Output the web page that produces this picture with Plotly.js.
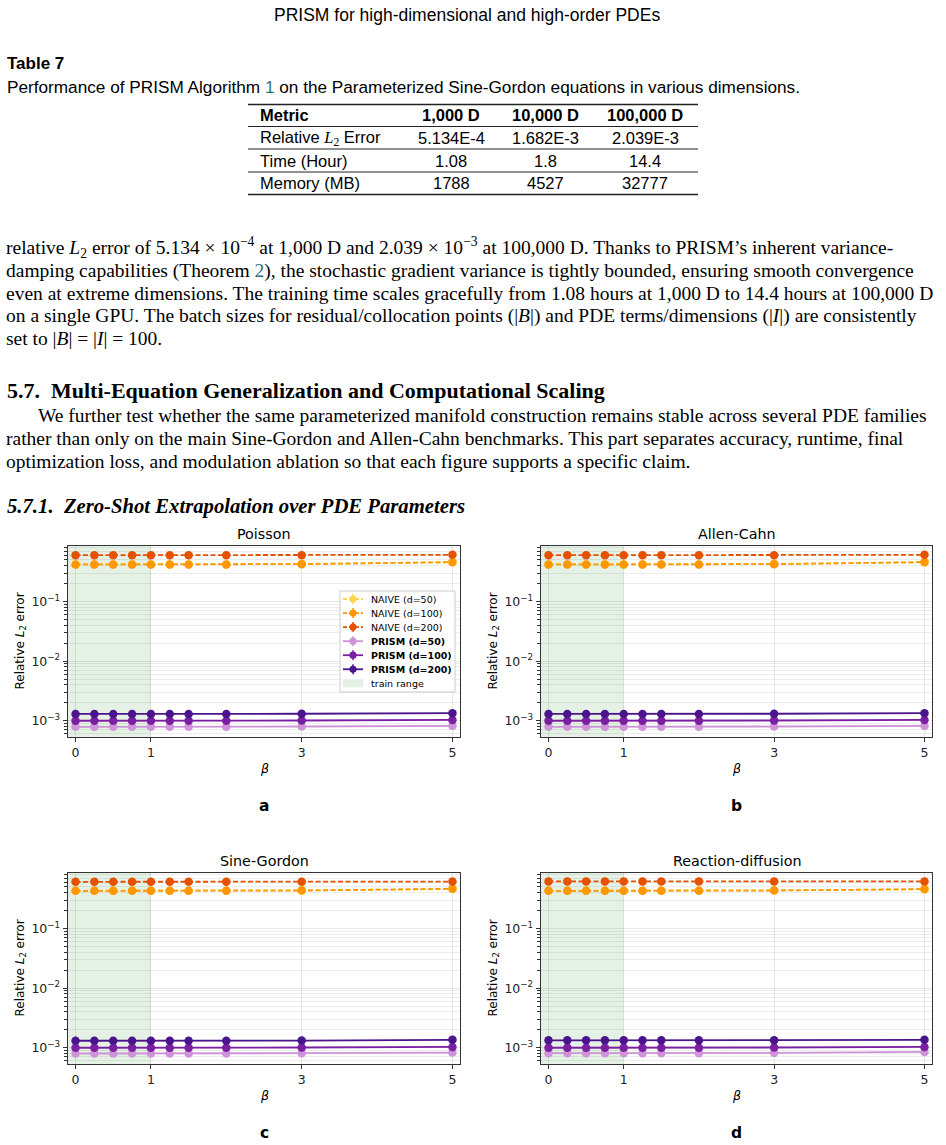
<!DOCTYPE html>
<html><head><meta charset="utf-8">
<script src="https://cdn.plot.ly/plotly-3.0.1.min.js"></script>
<style>html,body{margin:0;padding:0;background:#fff;}#chart{width:946px;height:1145px;}</style>
</head><body><div id="chart"></div>
<script>
// ---------------- DATA ----------------
const betas = [0, 0.25, 0.5, 0.75, 1, 1.25, 1.5, 2, 3, 5];
const trainRange = [0, 1];

const poissonNaive50  = [0.42, 0.42, 0.42, 0.42, 0.42, 0.42, 0.42, 0.42, 0.43, 0.455];
const poissonNaive100 = [0.42, 0.42, 0.42, 0.42, 0.42, 0.42, 0.42, 0.42, 0.425, 0.46];
const poissonNaive200 = [0.60, 0.60, 0.60, 0.60, 0.60, 0.60, 0.60, 0.60, 0.60, 0.61];
const poissonPrism50  = [0.79e-3, 0.79e-3, 0.79e-3, 0.79e-3, 0.79e-3, 0.79e-3, 0.79e-3, 0.79e-3, 0.80e-3, 0.82e-3];
const poissonPrism100 = [1.00e-3, 1.00e-3, 1.00e-3, 1.00e-3, 1.00e-3, 1.00e-3, 1.00e-3, 1.00e-3, 1.01e-3, 1.03e-3];
const poissonPrism200 = [1.30e-3, 1.30e-3, 1.30e-3, 1.30e-3, 1.30e-3, 1.30e-3, 1.30e-3, 1.30e-3, 1.31e-3, 1.34e-3];

const allenNaive50  = [0.42, 0.42, 0.42, 0.42, 0.42, 0.42, 0.42, 0.42, 0.43, 0.455];
const allenNaive100 = [0.42, 0.42, 0.42, 0.42, 0.42, 0.42, 0.42, 0.42, 0.425, 0.46];
const allenNaive200 = [0.60, 0.60, 0.60, 0.60, 0.60, 0.60, 0.60, 0.60, 0.60, 0.61];
const allenPrism50  = [0.79e-3, 0.79e-3, 0.79e-3, 0.79e-3, 0.79e-3, 0.79e-3, 0.79e-3, 0.79e-3, 0.80e-3, 0.82e-3];
const allenPrism100 = [1.00e-3, 1.00e-3, 1.00e-3, 1.00e-3, 1.00e-3, 1.00e-3, 1.00e-3, 1.00e-3, 1.01e-3, 1.03e-3];
const allenPrism200 = [1.30e-3, 1.30e-3, 1.30e-3, 1.30e-3, 1.30e-3, 1.30e-3, 1.30e-3, 1.30e-3, 1.31e-3, 1.34e-3];

const sineNaive50  = [0.43, 0.43, 0.43, 0.43, 0.43, 0.43, 0.43, 0.43, 0.44, 0.46];
const sineNaive100 = [0.43, 0.43, 0.43, 0.43, 0.43, 0.43, 0.43, 0.43, 0.435, 0.465];
const sineNaive200 = [0.61, 0.61, 0.61, 0.61, 0.61, 0.61, 0.61, 0.61, 0.61, 0.615];
const sinePrism50  = [0.80e-3, 0.80e-3, 0.80e-3, 0.80e-3, 0.80e-3, 0.80e-3, 0.80e-3, 0.80e-3, 0.81e-3, 0.83e-3];
const sinePrism100 = [1.00e-3, 1.00e-3, 1.00e-3, 1.00e-3, 1.00e-3, 1.00e-3, 1.00e-3, 1.00e-3, 1.01e-3, 1.03e-3];
const sinePrism200 = [1.31e-3, 1.31e-3, 1.31e-3, 1.31e-3, 1.31e-3, 1.31e-3, 1.31e-3, 1.31e-3, 1.32e-3, 1.36e-3];

const reactNaive50  = [0.43, 0.43, 0.43, 0.43, 0.43, 0.43, 0.43, 0.43, 0.44, 0.455];
const reactNaive100 = [0.43, 0.43, 0.43, 0.43, 0.43, 0.43, 0.43, 0.43, 0.435, 0.46];
const reactNaive200 = [0.62, 0.62, 0.62, 0.62, 0.62, 0.62, 0.62, 0.62, 0.62, 0.62];
const reactPrism50  = [0.81e-3, 0.81e-3, 0.81e-3, 0.81e-3, 0.81e-3, 0.81e-3, 0.81e-3, 0.81e-3, 0.82e-3, 0.85e-3];
const reactPrism100 = [1.00e-3, 1.00e-3, 1.00e-3, 1.00e-3, 1.00e-3, 1.00e-3, 1.00e-3, 1.00e-3, 1.01e-3, 1.03e-3];
const reactPrism200 = [1.33e-3, 1.33e-3, 1.33e-3, 1.33e-3, 1.33e-3, 1.33e-3, 1.33e-3, 1.33e-3, 1.34e-3, 1.36e-3];

const panelTitles = ['Poisson', 'Allen-Cahn', 'Sine-Gordon', 'Reaction-diffusion'];
const panelLabels = ['a', 'b', 'c', 'd'];
const seriesNames = ['NAIVE (d=50)', 'NAIVE (d=100)', 'NAIVE (d=200)', 'PRISM (d=50)', 'PRISM (d=100)', 'PRISM (d=200)'];
const panelData = [
  [poissonNaive50, poissonNaive100, poissonNaive200, poissonPrism50, poissonPrism100, poissonPrism200],
  [allenNaive50, allenNaive100, allenNaive200, allenPrism50, allenPrism100, allenPrism200],
  [sineNaive50, sineNaive100, sineNaive200, sinePrism50, sinePrism100, sinePrism200],
  [reactNaive50, reactNaive100, reactNaive200, reactPrism50, reactPrism100, reactPrism200]
];
const xTickVals = [0, 1, 3, 5];
const yTickVals = [1e-3, 1e-2, 1e-1];
const yTickText = ['10<sup>−3</sup>', '10<sup>−2</sup>', '10<sup>−1</sup>'];
const yMinorVals = [5e-4,6e-4,7e-4,8e-4,9e-4,2e-3,3e-3,4e-3,5e-3,6e-3,7e-3,8e-3,9e-3,2e-2,3e-2,4e-2,5e-2,6e-2,7e-2,8e-2,9e-2,0.2,0.3,0.4,0.5,0.6,0.7,0.8,0.9];

const tableHeader = ['Metric', '1,000 D', '10,000 D', '100,000 D'];
const tableRows = [
  ['Relative <span style="font-family:Liberation Serif"><i>L</i><sub>2</sub></span> Error', '5.134E-4', '1.682E-3', '2.039E-3'],
  ['Time (Hour)', '1.08', '1.8', '14.4'],
  ['Memory (MB)', '1788', '4527', '32777']
];

// ---------------- STYLE ----------------
const W = 946, H = 1145;
const px = x => x / W;
const py = y => 1 - y / H;
const seriesColors = ['#FFD54F', '#FF9800', '#E65100', '#CE93D8', '#7B1FA2', '#4A148C'];
const seriesDash = ['5px,2.5px', '5px,2.5px', '5px,2.5px', 'solid', 'solid', 'solid'];
const shadeColor = 'rgba(44,140,44,0.12)';
const link = '#2e6f7e';
const SANS = 'DejaVu Sans';
const SERIF = 'Liberation Serif';
const DOC = 'Liberation Sans';

const boxes = [
  {l: 68, r: 460, t: 546, b: 737},
  {l: 541, r: 932, t: 546, b: 737},
  {l: 68, r: 460, t: 873, b: 1064},
  {l: 541, r: 932, t: 873, b: 1064}
];

const traces = [];
const layout = {
  width: W, height: H, margin: {l: 0, r: 0, t: 0, b: 0},
  paper_bgcolor: '#fff', plot_bgcolor: 'rgba(0,0,0,0)',
  showlegend: false, annotations: [], shapes: [],
  font: {family: SANS, color: '#000'}
};

boxes.forEach((bx, i) => {
  const n = i === 0 ? '' : String(i + 1);
  const xa = 'x' + n, ya = 'y' + n;
  layout['xaxis' + n] = {
    domain: [px(bx.l), px(bx.r)], anchor: ya, range: [-0.1, 5.1],
    tickvals: xTickVals, ticks: 'outside', ticklen: 4, tickwidth: 1, tickcolor: '#333',
    showgrid: true, gridcolor: 'rgba(0,0,0,0.09)', gridwidth: 1, zeroline: false,
    showline: true, mirror: true, linecolor: '#333', linewidth: 1.3,
    tickfont: {family: SANS, size: 12.5, color: '#222'}
  };
  layout['yaxis' + n] = {
    domain: [py(bx.b), py(bx.t)], anchor: xa, type: 'log', range: [-3.273, -0.067],
    tickvals: yTickVals, ticktext: yTickText, ticks: 'outside', ticklen: 4, tickwidth: 1, tickcolor: '#333',
    showgrid: true, gridcolor: 'rgba(0,0,0,0.09)', gridwidth: 1, zeroline: false,
    showline: true, mirror: true, linecolor: '#333', linewidth: 1.3,
    tickfont: {family: SANS, size: 12.5, color: '#222'},
    minor: {tickvals: yMinorVals, ticks: 'outside', ticklen: 2.5, tickcolor: '#333', showgrid: true, gridcolor: 'rgba(0,0,0,0.07)', gridwidth: 1}
  };
  // train range shading
  layout.shapes.push({type: 'rect', xref: xa, yref: ya + ' domain', x0: -0.1, x1: trainRange[1], y0: 0, y1: 1,
    fillcolor: shadeColor, line: {width: 0}, layer: 'below'});
  panelData[i].forEach((vals, s) => {
    traces.push({
      x: betas, y: vals, xaxis: xa, yaxis: ya, type: 'scatter', mode: 'lines+markers',
      name: seriesNames[s], line: {color: seriesColors[s], width: 1.8, dash: seriesDash[s]},
      marker: {color: seriesColors[s], size: 8.5}, hoverinfo: 'skip'
    });
  });
  const cx = (bx.l + bx.r) / 2;
  layout.annotations.push({text: panelTitles[i], x: px(cx), y: py(bx.t - 12), xref: 'paper', yref: 'paper',
    xanchor: 'center', yanchor: 'middle', showarrow: false, font: {family: SANS, size: 14.3, color: '#000'}});
  layout.annotations.push({text: '<i>β</i>', x: px(cx), y: py(bx.b + 31), xref: 'paper', yref: 'paper',
    xanchor: 'center', yanchor: 'middle', showarrow: false, font: {family: SANS, size: 12.5, color: '#000'}});
  layout.annotations.push({text: 'Relative <i>L</i><sub>2</sub> error', x: px(bx.l - 48), y: py((bx.t + bx.b) / 2),
    xref: 'paper', yref: 'paper', xanchor: 'center', yanchor: 'middle', textangle: -90, showarrow: false,
    font: {family: SANS, size: 12, color: '#000'}});
  layout.annotations.push({text: '<b>' + panelLabels[i] + '</b>', x: px(cx), y: py(bx.b + 69), xref: 'paper', yref: 'paper',
    xanchor: 'center', yanchor: 'middle', showarrow: false, font: {family: SANS, size: 15.5, color: '#000'}});
});

// ---------------- MANUAL LEGEND (panel a) ----------------
const lg = {l: 340, r: 455, t: 591, b: 692, x0: 343, x1: 363, tx: 369, y0: 599, dy: 14.05};
layout.shapes.push({type: 'rect', xref: 'paper', yref: 'paper', x0: px(lg.l), x1: px(lg.r), y0: py(lg.b), y1: py(lg.t),
  fillcolor: 'rgba(255,255,255,0.85)', line: {color: '#cccccc', width: 1}});
seriesNames.forEach((nm, s) => {
  const yy = lg.y0 + s * lg.dy;
  const mx = (lg.x0 + lg.x1) / 2;
  layout.shapes.push({type: 'line', xref: 'paper', yref: 'paper', x0: px(lg.x0), x1: px(lg.x1), y0: py(yy), y1: py(yy),
    line: {color: seriesColors[s], width: 1.8, dash: s < 3 ? '4px,2px' : 'solid'}});
  layout.shapes.push({type: 'line', xref: 'paper', yref: 'paper', x0: px(mx), x1: px(mx), y0: py(yy - 5), y1: py(yy + 5),
    line: {color: seriesColors[s], width: 1.5}});
  layout.shapes.push({type: 'circle', xref: 'paper', yref: 'paper', x0: px(mx - 3.6), x1: px(mx + 3.6), y0: py(yy + 3.6), y1: py(yy - 3.6),
    fillcolor: seriesColors[s], line: {width: 0}});
  layout.annotations.push({text: s < 3 ? nm : '<b>' + nm + '</b>', x: px(lg.tx), y: py(yy), xref: 'paper', yref: 'paper',
    xanchor: 'left', yanchor: 'middle', showarrow: false, font: {family: SANS, size: 9.5, color: '#000'}});
});
{
  const yy = lg.y0 + 6 * lg.dy;
  layout.shapes.push({type: 'rect', xref: 'paper', yref: 'paper', x0: px(lg.x0), x1: px(lg.x1), y0: py(yy + 4), y1: py(yy - 4),
    fillcolor: shadeColor, line: {width: 0}});
  layout.annotations.push({text: 'train range', x: px(lg.tx), y: py(yy), xref: 'paper', yref: 'paper',
    xanchor: 'left', yanchor: 'middle', showarrow: false, font: {family: SANS, size: 9.5, color: '#000'}});
}

// ---------------- DOCUMENT TEXT ----------------
function txt(text, x, y, font, anchor) {
  layout.annotations.push({text: text, x: px(x), y: py(y), xref: 'paper', yref: 'paper',
    xanchor: anchor || 'left', yanchor: 'middle', showarrow: false, font: font, borderpad: 0});
}
txt('PRISM for high-dimensional and high-order PDEs', 467, 15, {family: DOC, size: 17.5, color: '#000'}, 'center');
txt('<b>Table 7</b>', 6, 64, {family: DOC, size: 17, color: '#000'});
txt('Performance of PRISM Algorithm <span style="color:' + link + '">1</span> on the Parameterized Sine-Gordon equations in various dimensions.', 6, 87, {family: DOC, size: 17.2, color: '#000'});

// table
const colX = [259, 451, 545, 645];
const rowY = [115, 137.5, 160.5, 183];
const ruleY = [104.5, 126.5, 149, 172, 194.5];
ruleY.forEach((y, k) => layout.shapes.push({type: 'line', xref: 'paper', yref: 'paper', x0: px(248), x1: px(698), y0: py(y), y1: py(y),
  line: {color: '#222', width: (k === 0 || k === 4) ? 1.4 : 1}}));
tableHeader.forEach((h, c) => txt('<b>' + h + '</b>', colX[c], rowY[0], {family: DOC, size: 16.5, color: '#000'}, c === 0 ? 'left' : 'center'));
tableRows.forEach((row, r) => row.forEach((v, c) => txt(v, colX[c], rowY[r + 1], {family: DOC, size: 16.5, color: '#000'}, c === 0 ? 'left' : 'center')));

// body paragraphs
const body = {family: SERIF, size: 19.5, color: '#000'};
const bodyLines = [
  'relative <i>L</i><sub>2</sub> error of 5.134 × 10<sup>−4</sup> at 1,000 D and 2.039 × 10<sup>−3</sup> at 100,000 D. Thanks to PRISM’s inherent variance-',
  'damping capabilities (Theorem <span style="color:' + link + '">2</span>), the stochastic gradient variance is tightly bounded, ensuring smooth convergence',
  'even at extreme dimensions. The training time scales gracefully from 1.08 hours at 1,000 D to 14.4 hours at 100,000 D',
  'on a single GPU. The batch sizes for residual/collocation points (|<i>B</i>|) and PDE terms/dimensions (|<i>I</i>|) are consistently',
  'set to |<i>B</i>| = |<i>I</i>| = 100.'
];
const bodyY = [247.5, 270.5, 293, 315.5, 338];
bodyLines.forEach((l, k) => txt(l, 5, bodyY[k], body));

txt('<b>5.7.  Multi-Equation Generalization and Computational Scaling</b>', 6, 390, {family: SERIF, size: 22, color: '#000'});
const para2 = [
  ['We further test whether the same parameterized manifold construction remains stable across several PDE families', 37],
  ['rather than only on the main Sine-Gordon and Allen-Cahn benchmarks. This part separates accuracy, runtime, final', 5],
  ['optimization loss, and modulation ablation so that each figure supports a specific claim.', 5]
];
const para2Y = [415, 438, 461];
para2.forEach((p, k) => txt(p[0], p[1], para2Y[k], body));
txt('<b><i>5.7.1.  Zero-Shot Extrapolation over PDE Parameters</i></b>', 6, 506, {family: SERIF, size: 20.7, color: '#000'});

Plotly.newPlot('chart', traces, layout, {staticPlot: true, displayModeBar: false});
</script>
</body></html>
